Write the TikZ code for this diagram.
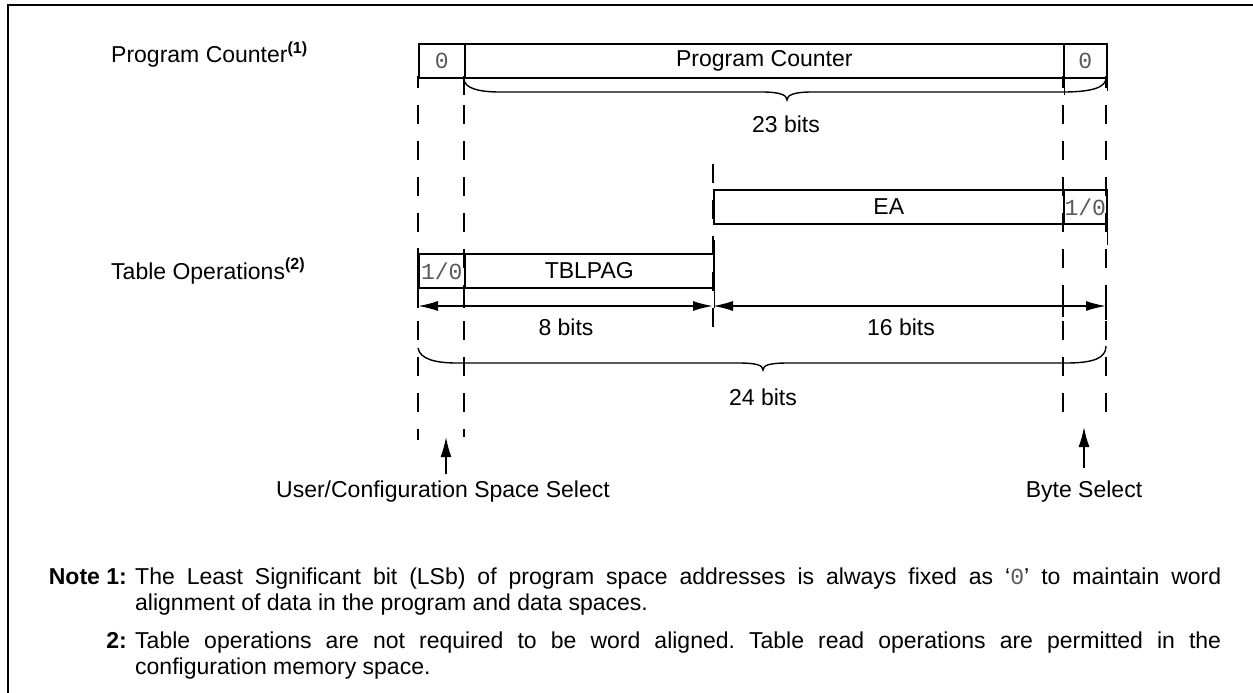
\documentclass[tikz,border=0pt]{standalone}
\usepackage{fontspec}
\setmainfont{Liberation Sans}
\setmonofont{Liberation Mono}
\usetikzlibrary{arrows.meta}
\definecolor{monogray}{gray}{0.35}
\frenchspacing
\begin{document}
\begin{tikzpicture}[x=1pt,y=-1pt,
  every node/.style={font=\fontsize{23}{26}\selectfont, inner sep=0pt},
  cell/.style={draw, line width=1.6pt, minimum height=34pt, anchor=north west},
  mono/.style={font=\fontsize{23}{26}\selectfont\ttfamily, text=monogray},
  guide/.style={line width=1.6pt, dash pattern=on 19pt off 17pt, dash phase=7pt},
  solid line/.style={line width=1.6pt},
  brace line/.style={line width=1.4pt},
  dimarrow/.style={line width=1.6pt, {Latex[length=20pt,width=10pt]}-{Latex[length=20pt,width=10pt]}},
  uparrow/.style={line width=1.6pt, -{Latex[length=20pt,width=11pt]}},
  lbl/.style={anchor=base west},
  note/.style={anchor=base west},
  notenum/.style={anchor=base east, font=\fontsize{23}{26}\selectfont\bfseries}]
\useasboundingbox (0,0) rectangle (1253,693);
% frame
\draw[line width=2.2pt] (1253,5) -- (8,5) -- (8,693);

% left labels
\node[lbl] (pclabel) at (111,63) {Program Counter\textsuperscript{\bfseries(1)}};
\node[lbl] (tblabel) at (111,279) {Table Operations\textsuperscript{\bfseries(2)}};

% guide lines (dashed)
\coordinate (g1t) at (418,76);  \coordinate (g1b) at (418,440);
\coordinate (g2t) at (464,76);  \coordinate (g2b) at (464,437);
\coordinate (g3t) at (713,164); \coordinate (g3b) at (713,342);
\coordinate (g4t) at (1063,76); \coordinate (g4b) at (1063,420);
\coordinate (g5t) at (1106,76); \coordinate (g5b) at (1106,427);
\draw[guide] (g1t) -- (g1b);
\draw[guide] (g2t) -- (g2b);
\draw[guide, dash phase=0pt] (g3t) -- (g3b);
\draw[guide] (g4t) -- (g4b);
\draw[guide] (g5t) -- (g5b);

% Program Counter register
\node[cell, minimum width=46pt, mono] (pc0) at (418,43) {0};
\node[cell, minimum width=599pt] (pcm) at (464,43) {Program Counter};
\node[cell, minimum width=43pt, mono] (pc1) at (1063,43) {0};

% EA register
\node[cell, minimum width=350pt] (ea) at (713,189) {EA};
\node[cell, minimum width=43pt, mono] (ea1) at (1063,189) {1/0};

% TBLPAG register
\node[cell, minimum width=46pt, mono] (tb0) at (418,253) {1/0};
\node[cell, minimum width=249pt] (tbm) at (464,253) {TBLPAG};

% solid extensions of the edges
\draw[solid line] (pcm.south west) -- ++(0,16);
\draw[solid line] (pcm.south east) -- ++(0,16);
\draw[solid line] (pc1.south east) -- ++(0,12);
\draw[solid line] (tb0.north west) ++(0,-5) -- (tb0.south west) -- ++(0,19);
\draw[solid line] (tbm.south west) -- ++(0,19);
\draw[solid line] (tbm.north east) ++(0,-13) -- (tbm.south east) -- ++(0,19);
\draw[solid line] (ea1.south east) -- ++(0,20);
\draw[solid line] (1063,295) -- (1063,317);
\draw[solid line] (1106,296) -- (1106,320);

% 23 bits brace
\draw[brace line] (pcm.south west) .. controls (464,88) and (478,92) .. (500,92)
  -- (762,92) .. controls (780,92) and (787,95) .. (787,100)
  .. controls (787,95) and (794,92) .. (812,92) -- (1063,92)
  .. controls (1090,92) and (1106,88) .. (1106,78);
\node[anchor=base] (b23) at (786,132) {23 bits};

% dimension arrows
\coordinate (a8l) at (418,306);
\coordinate (a8r) at (713,306);
\coordinate (a16r) at (1106,306);
\draw[dimarrow] (a8l) -- (a8r);
\draw[dimarrow] (a8r) -- (a16r);
\node[anchor=base] (b8) at (566,335) {8 bits};
\node[anchor=base] (b16) at (901,335) {16 bits};

% 24 bits brace
\draw[brace line] (418,348) .. controls (420,360) and (438,363) .. (457,363)
  -- (738,363) .. controls (756,363) and (763,365) .. (763,370)
  .. controls (763,365) and (770,363) .. (788,363) -- (1066,363)
  .. controls (1094,363) and (1106,358) .. (1106,346);
\node[anchor=base] (b24) at (763,405) {24 bits};

% select arrows
\node[anchor=base] (ucs) at (443,497) {User/Configuration Space Select};
\node[anchor=base] (bs) at (1084,497) {Byte Select};
\coordinate (ucstip) at (446,437);
\coordinate (bstip) at (1084,427);
\draw[uparrow] (ucs.north -| ucstip) ++(0,-6) -- (ucstip);
\draw[uparrow] (bs.north -| bstip) ++(0,-12) -- (bstip);

% notes
\node[notenum] (n1) at (127,584) {Note 1:};
\node[note] (n1a) at (135,584) {\makebox[1086pt][s]{The Least Significant bit (LSb) of program space addresses is always fixed as ‘{\ttfamily\color{monogray}0}’ to maintain word}};
\node[note] (n1b) at (135,610) {alignment of data in the program and data spaces.};
\node[notenum] (n2) at (127,648) {2:};
\node[note] (n2a) at (135,648) {\makebox[1086pt][s]{Table operations are not required to be word aligned. Table read operations are permitted in the}};
\node[note] (n2b) at (135,674) {configuration memory space.};
\end{tikzpicture}
\end{document}
